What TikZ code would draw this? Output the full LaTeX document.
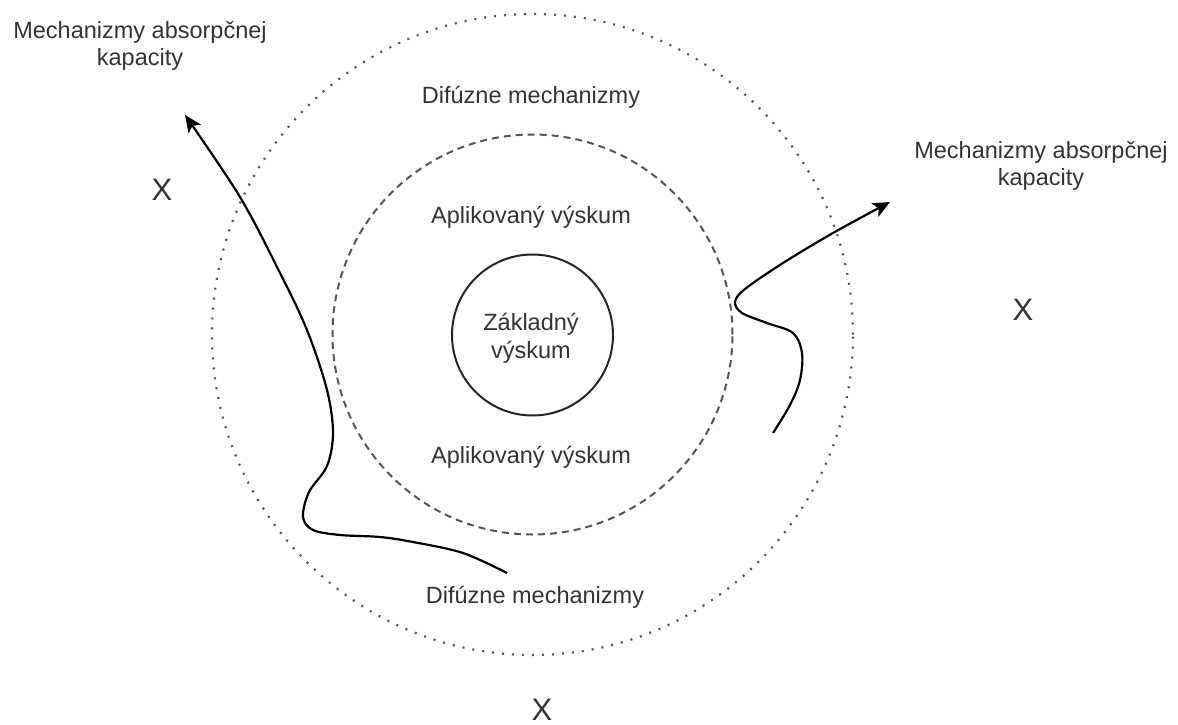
\documentclass[tikz,border=0pt]{standalone}
\usepackage{fontspec}
\setmainfont{Liberation Sans}
\usetikzlibrary{arrows.meta}
\definecolor{txt}{HTML}{333333}
\definecolor{ringgray}{HTML}{555555}
\begin{document}
\begin{tikzpicture}[x=1pt,y=-1pt,
  lbl/.style={font=\fontsize{23.5}{27}\selectfont, text=txt, inner sep=0pt, align=center, anchor=base},
  xmark/.style={font=\fontsize{31}{31}\selectfont, text=txt, inner sep=0pt, anchor=center},
  outerring/.style={circle, draw=ringgray, line width=2.2pt, dash pattern=on 2pt off 8pt, minimum size=641pt, inner sep=0pt},
  midring/.style={circle, draw=ringgray, line width=2pt, dash pattern=on 7pt off 5pt, minimum size=400pt, inner sep=0pt},
  corering/.style={circle, draw=black!85, line width=2pt, minimum size=161pt, inner sep=0pt},
  curve/.style={draw=black, line width=2.2pt, -{Stealth[length=17pt,width=15pt,inset=4pt]}}
]
\useasboundingbox (0,0) rectangle (1178,725);

% rings
\node[outerring] (outer) at (532.5,334.5) {};
\node[midring] (mid) at (532.5,334.5) {};
\node[corering] (core) at (532.5,335) {};
\node[lbl, font=\fontsize{23.5}{28}\selectfont] (coreText) at (531,358) {Základný\\výskum};

% labels
\node[lbl] (difTop) at (531,103) {Difúzne mechanizmy};
\node[lbl] (aplTop) at (531,223) {Aplikovaný výskum};
\node[lbl] (aplBot) at (531,463) {Aplikovaný výskum};
\node[lbl] (difBot) at (535,603) {Difúzne mechanizmy};
\node[lbl] (absLeft) at (140,66) {Mechanizmy absorpčnej\\kapacity};
\node[lbl] (absRight) at (1041,185) {Mechanizmy absorpčnej\\kapacity};

% X marks
\node[xmark] (xLeft) at (162,190) {X};
\node[xmark] (xRight) at (1023,310) {X};
\node[xmark] (xBot) at (542,710) {X};

% curves
\coordinate (lStart) at (507,573);
\coordinate (lTip) at (185,115);
\coordinate (rStart) at (773,433);
\coordinate (rTip) at (890,202);

\draw[curve] plot[smooth, tension=0.55] coordinates {(lStart) (463,553) (413,542) (380,537) (340,535) (313,530) (303,517) (309,492) (327,466) (333,433) (327,390) (307,330) (280,273) (240,197) (lTip)};

\draw[curve] plot[smooth, tension=0.55] coordinates {(rStart) (790,405) (800,380) (802,353) (793,333) (767,323) (742,313) (735,302) (745,289) (783,263) (833,233) (rTip)};
\end{tikzpicture}
\end{document}
